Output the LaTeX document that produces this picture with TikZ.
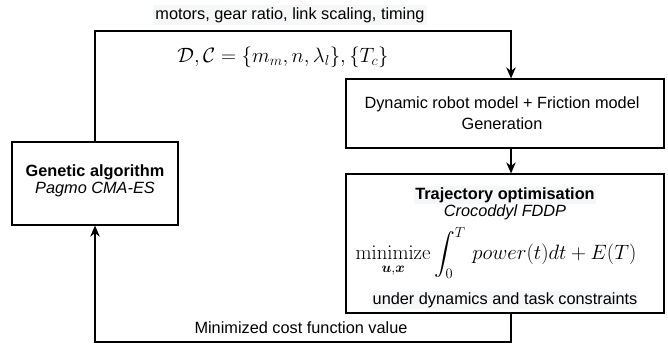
\documentclass[tikz,border=0pt]{standalone}
\usepackage{amsmath,amssymb,bm}
\usepackage[no-math]{fontspec}
\setmainfont{Liberation Sans}
\usetikzlibrary{arrows.meta}
\definecolor{lblbg}{RGB}{246,247,248}
\begin{document}
\begin{tikzpicture}[x=1pt,y=-1pt,
  box/.style={draw, line width=1.2pt, inner sep=0pt},
  txt/.style={font=\fontsize{16.3}{19}\selectfont, inner sep=1pt},
  mth/.style={font=\fontsize{20.74}{24}\selectfont, inner sep=1pt},
  lbl/.style={txt, fill=lblbg, inner sep=2pt},
  conn/.style={line width=1.2pt},
  arr/.style={conn, -{Stealth[length=11pt,width=9.5pt,inset=3.5pt]}}]
\useasboundingbox (0,0) rectangle (668,345);
\node[box, minimum width=166pt, minimum height=83pt] (ga) at (95,183.5) {};
\node[box, minimum width=318pt, minimum height=69pt] (dyn) at (505,113.5) {};
\node[box, minimum width=318pt, minimum height=139pt] (traj) at (505,243.5) {};
% texts
\node[txt, font=\fontsize{16.3}{19}\selectfont\bfseries] (gat) at (95,172) {Genetic algorithm};
\node[txt, font=\fontsize{16.3}{19}\selectfont\itshape] (gas) at (95,189) {Pagmo CMA-ES};
\node[txt] (dyn1) at (502,104) {Dynamic robot model + Friction model};
\node[txt] (dyn2) at (502,124) {Generation};
\node[lbl, font=\fontsize{16.3}{19}\selectfont\bfseries, inner sep=1pt] (trt) at (505,195) {Trajectory optimisation};
\node[txt, font=\fontsize{16.3}{19}\selectfont\itshape] (trs) at (505,212.5) {Crocoddyl FDDP};
\node[mth] (trf) at (496,253) {$\displaystyle \operatorname*{minimize}_{\boldsymbol{u},\boldsymbol{x}} \int_0^T \, power(t)dt + E(T)$};
\node[lbl, inner sep=1pt] (trc) at (505,300) {under dynamics and task constraints};
% connectors
\coordinate (tr) at (511,31);
\coordinate (br) at (511,342);
\draw[arr] (ga.north) |- (tr) -- (tr |- dyn.north);
\draw[arr] (tr |- dyn.south) -- (tr |- traj.north);
\draw[arr] (tr |- traj.south) -- (br) -| (ga.south);
% labels
\node[lbl] (toplbl) at (290,15) {motors, gear ratio, link scaling, timing};
\node[mth] (mathlbl) at (283,57) {$\mathcal{D},\mathcal{C}=\{m_m,n,\lambda_l\},\{T_c\}$};
\node[txt] (botlbl) at (301,328) {Minimized cost function value};
\end{tikzpicture}
\end{document}
